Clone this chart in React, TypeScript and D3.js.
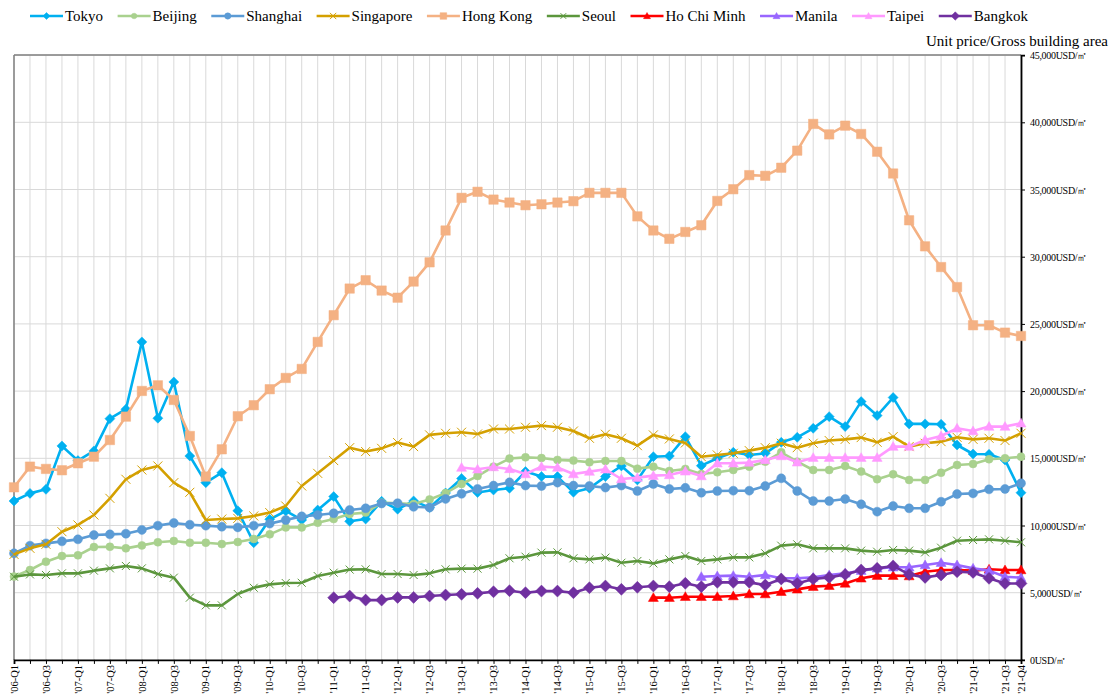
import { useEffect, useRef } from "react";
import * as d3 from "d3";

// quarters '06-Q1 .. '21-Q4
const years = ["06", "07", "08", "09", "10", "11", "12", "13", "14", "15", "16", "17", "18", "19", "20", "21"];
const quarters = years.flatMap((y) => ["Q1", "Q2", "Q3", "Q4"].map((q) => `'${y}-${q}`));

const yTicks = [0, 5000, 10000, 15000, 20000, 25000, 30000, 35000, 40000, 45000];

const _ = null;

const tokyo = [11820, 12390, 12690, 15920, 14830, 15550, 17950, 18650, 23660, 17980, 20680, 15170, 13190, 13930, 11100, 8720,
  10460, 11080, 10410, 11150, 12150, 10310, 10480, 11800, 11210, 11830, 11330, 12420, 13500, 12450, 12640, 12770,
  14010, 13640, 13640, 12470, 12770, 13640, 14430, 13390, 15120, 15170, 16610, 14450, 15000, 15450, 15250, 15370,
  16190, 16560, 17230, 18100, 17360, 19220, 18180, 19520, 17560, 17560, 17530, 15990, 15320, 15300, 14880, 12440];

const beijing = [6200, 6690, 7310, 7730, 7780, 8400, 8420, 8300, 8520, 8750, 8850, 8720, 8720, 8620, 8770, 9000,
  9340, 9860, 9860, 10210, 10480, 10850, 10960, 11700, 11650, 11600, 11940, 12410, 13090, 13680, 14380, 14980,
  15070, 15020, 14880, 14830, 14700, 14800, 14800, 14230, 14380, 14060, 14210, 13830, 13960, 14130, 14380, 14750,
  15450, 14750, 14130, 14130, 14430, 14010, 13440, 13810, 13390, 13390, 13930, 14500, 14580, 14930, 15000, 15120];

const shanghai = [7930, 8500, 8670, 8820, 8970, 9290, 9340, 9390, 9670, 9990, 10190, 10060, 9990, 9910, 9860, 9990,
  10140, 10410, 10680, 10780, 10910, 11150, 11280, 11640, 11660, 11390, 11340, 11980, 12360, 12720, 12970, 13210,
  12970, 12940, 13190, 12970, 12940, 12820, 12970, 12570, 13090, 12720, 12800, 12440, 12570, 12590, 12590, 12940,
  13510, 12570, 11820, 11820, 11970, 11580, 11030, 11450, 11280, 11280, 11770, 12340, 12390, 12690, 12720, 13140];

const singapore = [7850, 8300, 8600, 9540, 10040, 10780, 12020, 13440, 14130, 14430, 13190, 12470, 10410, 10480, 10530, 10710,
  10960, 11450, 12940, 13880, 14830, 15790, 15500, 15740, 16170, 15870, 16740, 16860, 16940, 16810, 17180, 17180,
  17310, 17430, 17310, 17030, 16490, 16790, 16490, 15940, 16740, 16440, 16140, 15120, 15250, 15370, 15570, 15790,
  16120, 15790, 16120, 16320, 16410, 16540, 16190, 16610, 15870, 16120, 16240, 16560, 16410, 16490, 16320, 16860];

const hongKong = [12840, 14380, 14210, 14110, 14630, 15120, 16360, 18100, 20010, 20430, 19340, 16660, 13640, 15670, 18130, 18950,
  20140, 20980, 21650, 23660, 25650, 27630, 28250, 27480, 26950, 28150, 29580, 31950, 34380, 34830, 34250, 34030,
  33830, 33900, 34030, 34130, 34750, 34750, 34750, 33000, 31950, 31330, 31840, 32340, 34150, 35020, 36070, 36020,
  36620, 37890, 39880, 39100, 39750, 39130, 37810, 36190, 32710, 30770, 29230, 27740, 24900, 24900, 24350, 24100];

const seoul = [6190, 6360, 6320, 6440, 6440, 6640, 6810, 6990, 6810, 6390, 6120, 4630, 4060, 4060, 4900, 5370,
  5620, 5720, 5740, 6240, 6490, 6720, 6740, 6390, 6390, 6320, 6440, 6740, 6790, 6790, 7060, 7560,
  7680, 7980, 8000, 7560, 7480, 7610, 7230, 7360, 7180, 7480, 7730, 7360, 7480, 7630, 7630, 7930,
  8500, 8600, 8300, 8300, 8300, 8130, 8050, 8180, 8130, 8000, 8350, 8870, 8920, 8970, 8870, 8750];

const hoChiMinh = [_, _, _, _, _, _, _, _, _, _, _, _, _, _, _, _,
  _, _, _, _, _, _, _, _, _, _, _, _, _, _, _, _,
  _, _, _, _, _, _, _, _, 4630, 4630, 4700, 4700, 4700, 4750, 4900, 4900,
  5070, 5250, 5450, 5520, 5690, 6070, 6270, 6270, 6240, 6560, 6690, 6690, 6640, 6740, 6690, 6690];

const manila = [_, _, _, _, _, _, _, _, _, _, _, _, _, _, _, _,
  _, _, _, _, _, _, _, _, _, _, _, _, _, _, _, _,
  _, _, _, _, _, _, _, _, _, _, _, 6190, 6240, 6270, 6190, 6320,
  6070, 6070, 6140, 6320, 6440, 6640, 6810, 6890, 6890, 7060, 7230, 7060, 6810, 6640, 6190, 6120];

const taipei = [_, _, _, _, _, _, _, _, _, _, _, _, _, _, _, _,
  _, _, _, _, _, _, _, _, _, _, _, _, 14310, 14180, 14350, 14210,
  13830, 14380, 14310, 13830, 14010, 14180, 13460, 13560, 13710, 13760, 14030, 13680, 14630, 14630, 14680, 14880,
  15170, 14700, 15050, 15050, 15050, 15050, 15050, 15870, 15870, 16360, 16660, 17230, 17030, 17360, 17360, 17610];

const bangkok = [_, _, _, _, _, _, _, _, _, _, _, _, _, _, _, _,
  _, _, _, _, 4630, 4750, 4450, 4450, 4650, 4650, 4750, 4830, 4880, 4950, 5070, 5150,
  5000, 5120, 5120, 5000, 5370, 5500, 5250, 5400, 5500, 5450, 5700, 5450, 5770, 5770, 5770, 5570,
  6020, 5690, 6020, 6140, 6360, 6690, 6810, 6990, 6360, 6140, 6320, 6560, 6510, 6070, 5690, 5690];

type Marker = "diamond" | "circle" | "x" | "square" | "triangle";

const series: { name: string; values: (number | null)[]; color: string; marker: Marker; size: number }[] = [
  { name: "Tokyo", values: tokyo, color: "#00B0F0", marker: "diamond", size: 5 },
  { name: "Beijing", values: beijing, color: "#A9D18E", marker: "circle", size: 4 },
  { name: "Shanghai", values: shanghai, color: "#5B9BD5", marker: "circle", size: 4.5 },
  { name: "Singapore", values: singapore, color: "#D4A000", marker: "x", size: 4.5 },
  { name: "Hong Kong", values: hongKong, color: "#F4B183", marker: "square", size: 4.7 },
  { name: "Seoul", values: seoul, color: "#5B963C", marker: "x", size: 4 },
  { name: "Ho Chi Minh", values: hoChiMinh, color: "#FF0000", marker: "triangle", size: 5 },
  { name: "Manila", values: manila, color: "#9966FF", marker: "triangle", size: 5 },
  { name: "Taipei", values: taipei, color: "#FF99FF", marker: "triangle", size: 5 },
  { name: "Bangkok", values: bangkok, color: "#7030A0", marker: "diamond", size: 6 },
];

const FONT = "'Liberation Serif', 'Times New Roman', serif";

function markerPath(m: Marker, s: number) {
  switch (m) {
    case "diamond":
      return `M0,${-s}L${s},0L0,${s}L${-s},0Z`;
    case "square":
      return `M${-s},${-s}H${s}V${s}H${-s}Z`;
    case "triangle":
      return `M0,${-s}L${s},${s * 0.75}L${-s},${s * 0.75}Z`;
    case "x":
      return `M${-s},${-s}L${s},${s}M${s},${-s}L${-s},${s}`;
    default: {
      const p = d3.path();
      p.arc(0, 0, s, 0, Math.PI * 2);
      return p.toString();
    }
  }
}

function drawMarker(g: d3.Selection<SVGGElement, unknown, null, undefined>, m: Marker, s: number, color: string, x: number, y: number) {
  const isX = m === "x";
  g.append("path")
    .attr("d", markerPath(m, s))
    .attr("transform", `translate(${x},${y})`)
    .attr("fill", isX ? "none" : color)
    .attr("stroke", color)
    .attr("stroke-width", isX ? 1 : 0.5);
}

export default function App() {
  const ref = useRef<SVGSVGElement>(null);

  useEffect(() => {
    const width = 1115, height = 698;
    const left = 14, right = 1021, top = 55.1, bottom = 659.9;

    const svg = d3.select(ref.current);
    svg.selectAll("*").remove();

    const x = d3.scalePoint<string>().domain(quarters).range([left, right]);
    const y = d3.scaleLinear().domain([0, 45000]).range([bottom, top]);

    // grid
    const grid = svg.append("g").attr("stroke", "#D9D9D9").attr("stroke-width", 1);
    grid.selectAll("line.v").data(quarters).join("line")
      .attr("x1", (d) => x(d)!).attr("x2", (d) => x(d)!)
      .attr("y1", top).attr("y2", bottom);
    grid.selectAll("line.h").data(yTicks.slice(1)).join("line")
      .attr("x1", left).attr("x2", right)
      .attr("y1", (d) => y(d)).attr("y2", (d) => y(d));

    // frame
    svg.append("line").attr("x1", left).attr("x2", right).attr("y1", top).attr("y2", top)
      .attr("stroke", "#808080").attr("stroke-width", 1.5);
    svg.append("line").attr("x1", left).attr("x2", left).attr("y1", top).attr("y2", bottom)
      .attr("stroke", "#808080").attr("stroke-width", 1.5);

    // bottom axis
    const xAxis = svg.append("g").attr("transform", `translate(0,${bottom})`)
      .call(d3.axisBottom(x).tickSize(4).tickFormat(() => ""));
    xAxis.select(".domain").attr("stroke", "#000").attr("stroke-width", 1.8);
    xAxis.selectAll(".tick line").attr("stroke", "#000");
    const shown = quarters.filter((q, i) => q.endsWith("Q1") || q.endsWith("Q3") || i === quarters.length - 1);
    svg.append("g")
      .selectAll("text").data(shown).join("text")
      .attr("transform", (d) => `translate(${x(d)},${bottom + 5}) rotate(-90)`)
      .attr("text-anchor", "end")
      .attr("dy", "0.35em")
      .attr("font-family", FONT)
      .attr("font-size", 10.5)
      .attr("fill", "#000")
      .text((d) => d);

    // right axis
    const yAxis = svg.append("g").attr("transform", `translate(${right},0)`)
      .call(d3.axisRight(y).tickValues(yTicks).tickSize(4).tickFormat(() => ""));
    yAxis.select(".domain").attr("stroke", "#000").attr("stroke-width", 1.8);
    yAxis.selectAll(".tick line").attr("stroke", "#000");
    svg.append("g")
      .selectAll("text").data(yTicks).join("text")
      .attr("x", right + 9)
      .attr("y", (d) => y(d) + 4)
      .attr("font-family", FONT)
      .attr("font-size", 10)
      .attr("letter-spacing", -0.3)
      .attr("fill", "#000")
      .text((d) => `${d3.format(",")(d)}USD/㎡`);

    svg.append("text")
      .attr("x", 1108).attr("y", 46)
      .attr("text-anchor", "end")
      .attr("font-family", FONT).attr("font-size", 15)
      .text("Unit price/Gross building area");

    // series
    const line = d3.line<number | null>()
      .defined((d) => d != null)
      .x((_d, i) => x(quarters[i])!)
      .y((d) => y(d as number));

    series.forEach((s) => {
      const g = svg.append("g");
      g.append("path")
        .attr("d", line(s.values))
        .attr("fill", "none")
        .attr("stroke", s.color)
        .attr("stroke-width", 2.6)
        .attr("stroke-linejoin", "round");
      s.values.forEach((v, i) => {
        if (v == null) return;
        drawMarker(g, s.marker, s.size, s.color, x(quarters[i])!, y(v));
      });
    });

    // legend
    const ctx = document.createElement("canvas").getContext("2d")!;
    ctx.font = `15px ${FONT}`;
    let lx = 30;
    const ly = 16;
    const legend = svg.append("g");
    series.forEach((s) => {
      const g = legend.append("g");
      g.append("line").attr("x1", lx).attr("x2", lx + 33).attr("y1", ly).attr("y2", ly)
        .attr("stroke", s.color).attr("stroke-width", 2.6);
      drawMarker(g, s.marker, s.size * 0.7, s.color, lx + 16.5, ly);
      g.append("text").attr("x", lx + 35).attr("y", ly + 5)
        .attr("font-family", FONT).attr("font-size", 15).attr("fill", "#000")
        .text(s.name);
      lx += 35 + ctx.measureText(s.name).width + 14.5;
    });

    svg.attr("width", width).attr("height", height);
  }, []);

  return (
    <svg ref={ref} width={1115} height={698} style={{ position: "absolute", left: 0, top: 0, background: "#fff" }} />
  );
}
